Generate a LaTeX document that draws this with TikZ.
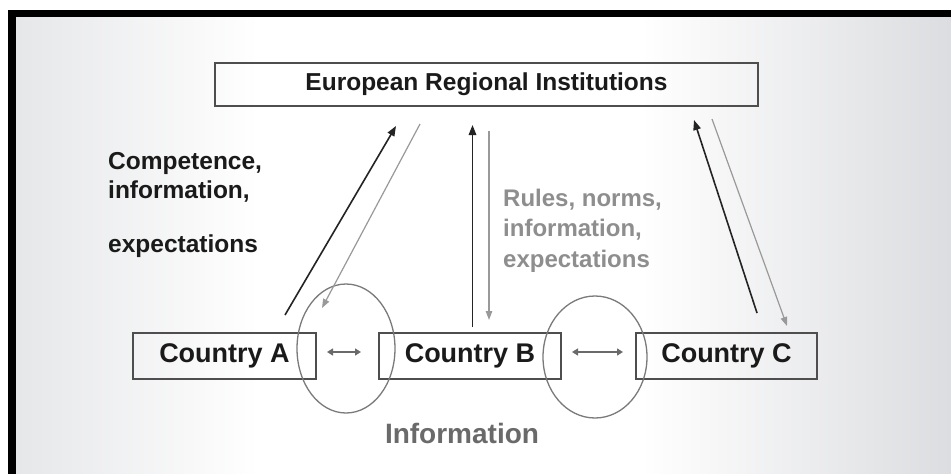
\documentclass[tikz,border=0pt]{standalone}
\usepackage{fontspec}
\setmainfont{Liberation Sans}
\usetikzlibrary{arrows.meta,shapes.geometric}

\definecolor{ink}{HTML}{1A1A1A}
\definecolor{boxline}{HTML}{4E4E4E}
\definecolor{ringline}{HTML}{7A7A7A}
\definecolor{softgray}{HTML}{8E8E8E}
\definecolor{midgray}{HTML}{6A6A6A}
\definecolor{upline}{HTML}{242424}
\definecolor{downline}{HTML}{999999}
\definecolor{bgleft}{HTML}{E6E7E9}
\definecolor{bgright}{HTML}{DCDDE0}

\begin{document}
\begin{tikzpicture}[x=1pt,y=-1pt,
  frame/.style={fill=black},
  box/.style={draw=boxline, line width=1.8pt, inner sep=0pt, text=ink,
              font=\bfseries\fontsize{27}{32}\selectfont},
  topbox/.style={box, font=\bfseries\fontsize{24.5}{29}\selectfont},
  ring/.style={draw=ringline, line width=1.3pt, ellipse, inner sep=0pt},
  upflow/.style={draw=upline, line width=1.6pt,
                 -{Triangle[length=10pt,width=7.5pt]}},
  downflow/.style={draw=downline, line width=1.2pt,
                   -{Triangle[length=9pt,width=6.5pt]}, color=downline},
  exchange/.style={draw=midgray, line width=1.3pt,
                   {Triangle[length=6pt,width=7pt]}-{Triangle[length=6pt,width=7pt]}},
  darklabel/.style={anchor=base west, inner sep=0pt, text=ink,
                    font=\bfseries\fontsize{24.5}{29}\selectfont},
  graylabel/.style={anchor=base west, inner sep=0pt, text=softgray,
                    font=\bfseries\fontsize{24}{29}\selectfont},
  infolabel/.style={anchor=base, inner sep=0pt, text=midgray,
                    font=\bfseries\fontsize{28}{32}\selectfont}
]
\useasboundingbox (0,0) rectangle (951,474);

% page background with soft side shading
\fill[white] (0,0) rectangle (951,474);
\shade[left color=bgleft, right color=white] (16,17) rectangle (260,474);
\shade[left color=white, right color=bgright] (640,17) rectangle (951,474);

% black frame along the top and the left
\fill[frame] (8,10) rectangle (951,17);
\fill[frame] (8,10) rectangle (16,474);

% institutions and countries
\node[topbox, minimum width=543pt, minimum height=43pt] (eri) at (486.5,84.5)
  {European Regional Institutions};
\node[box, minimum width=183pt, minimum height=46pt] (ca) at (224.5,356) {Country A};
\node[box, minimum width=182pt, minimum height=46pt] (cb) at (470,356) {Country B};
\node[box, minimum width=181pt, minimum height=46pt] (cc) at (726.5,356) {Country C};

% information exchange rings between neighbouring countries
\node[ring, minimum width=98pt, minimum height=129pt] (ringL) at (346,348.5) {};
\node[ring, minimum width=104pt, minimum height=122pt] (ringR) at (595,357) {};

% end points of the flows
\coordinate (aUpS) at (285,315);   \coordinate (aUpE) at (396,126);
\coordinate (aDnS) at (420,124);   \coordinate (aDnE) at (322,308);
\coordinate (bUpS) at (472.5,327); \coordinate (bUpE) at (472.5,125);
\coordinate (bDnS) at (489,131);   \coordinate (bDnE) at (489,320);
\coordinate (cUpS) at (757,313);   \coordinate (cUpE) at (694,120);
\coordinate (cDnS) at (712,119);   \coordinate (cDnE) at (787,326);
\coordinate (abL) at (327,352);    \coordinate (abR) at (361,352);
\coordinate (bcL) at (572,352);    \coordinate (bcR) at (623,352);

% flows up to and down from the institutions
\draw[upflow] (aUpS) -- (aUpE);
\draw[downflow] (aDnS) -- (aDnE);
\draw[upflow] (bUpS) -- (bUpE);
\draw[downflow] (bDnS) -- (bDnE);
\draw[upflow] (cUpS) -- (cUpE);
\draw[downflow] (cDnS) -- (cDnE);

% horizontal exchange between countries
\draw[exchange] (abL) -- (abR);
\draw[exchange] (bcL) -- (bcR);

% labels
\node[darklabel] (up1) at (108,169) {Competence,};
\node[darklabel] (up2) at (108,198) {information,};
\node[darklabel] (up3) at (108,252) {expectations};

\node[graylabel] (dn1) at (503,206) {Rules, norms,};
\node[graylabel] (dn2) at (503,236) {information,};
\node[graylabel] (dn3) at (503,267) {expectations};

\node[infolabel] (info) at (462,443) {Information};
\end{tikzpicture}
\end{document}
